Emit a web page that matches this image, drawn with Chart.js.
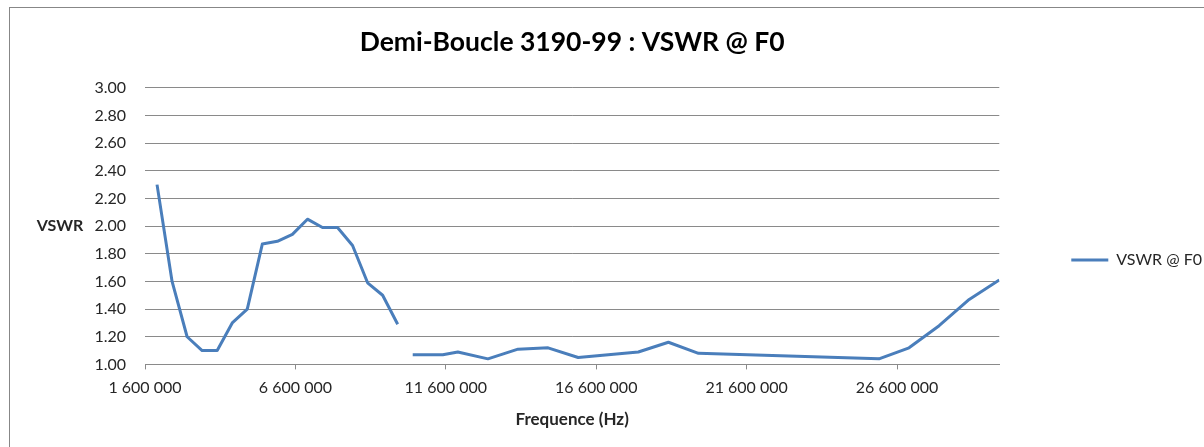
<!DOCTYPE html>
<html>
<head>
<meta charset="utf-8">
<title>Demi-Boucle 3190-99 : VSWR @ F0</title>
<script src="https://cdn.jsdelivr.net/npm/chart.js@4.4.1/dist/chart.umd.min.js"></script>
<style>
  html, body { margin: 0; padding: 0; background: #fff; overflow: hidden; }
  #frame { position: absolute; left: 9px; top: 7px; width: 1300px; height: 600px; border: 1px solid #878787; }
  #chart { display: block; }
</style>
</head>
<body>
<div id="frame"><canvas id="chart" width="1202" height="504"></canvas></div>
<script>
// measured points (Hz / VSWR), null row = missing measurement (gap in the curve)
const freqHz = [
  2000000, 2500000, 3000000, 3500000, 4000000, 4500000, 5000000, 5500000,
  6000000, 6500000, 7000000, 7500000, 8000000, 8500000, 9000000, 9500000,
  10000000, null,
  10500000, 11500000, 12000000, 13000000, 14000000, 15000000, 16000000,
  18000000, 19000000, 20000000, 26000000, 27000000, 28000000, 29000000, 30000000
];
const vswr = [
  2.30, 1.60, 1.20, 1.10, 1.10, 1.30, 1.40, 1.87,
  1.89, 1.94, 2.05, 1.99, 1.99, 1.86, 1.59, 1.50,
  1.29, null,
  1.07, 1.07, 1.09, 1.04, 1.11, 1.12, 1.05,
  1.09, 1.16, 1.08, 1.04, 1.12, 1.28, 1.47, 1.61
];
const xTicks = [1600000, 6600000, 11600000, 16600000, 21600000, 26600000];

const chartTitle = "Demi-Boucle 3190-99 : VSWR @ F0";
const seriesName = "VSWR @ F0";
const xTitle = "Frequence (Hz)";
const yTitle = "VSWR";

const textColor = "#262626";
const gridColor = "#8a8a8a";
const lineColor = "#4a7ebb";

function spaced(v) {
  return String(Math.round(v)).replace(/\B(?=(\d{3})+(?!\d))/g, " ");
}

// y axis title is horizontal in the original, so draw it by hand
const yTitlePlugin = {
  id: "yTitleFlat",
  afterDraw(chart) {
    const { ctx, chartArea } = chart;
    ctx.save();
    ctx.font = "bold 16px Lato";
    ctx.fillStyle = textColor;
    ctx.textAlign = "center";
    ctx.textBaseline = "middle";
    ctx.fillText(yTitle, 50, (chartArea.top + chartArea.bottom) / 2);
    ctx.restore();
  }
};

const ctx = document.getElementById("chart").getContext("2d");
new Chart(ctx, {
  type: "line",
  data: {
    datasets: [{
      label: seriesName,
      data: freqHz.map((f, i) => ({ x: f, y: vswr[i] })),
      borderColor: lineColor,
      backgroundColor: lineColor,
      borderWidth: 3,
      borderJoinStyle: "round",
      pointRadius: 0,
      pointHoverRadius: 0,
      pointStyle: "line",
      tension: 0,
      spanGaps: false
    }]
  },
  options: {
    responsive: false,
    animation: false,
    layout: { padding: { left: 0, right: 0, top: 0, bottom: 0 } },
    plugins: {
      tooltip: { enabled: false },
      title: {
        display: true,
        text: chartTitle,
        fullSize: false,
        color: "#000",
        font: { family: "Lato", size: 26.5, weight: "bold" },
        padding: { top: 19, bottom: 29 }
      },
      legend: {
        position: "right",
        labels: {
          usePointStyle: true,
          pointStyle: "line",
          pointStyleWidth: 37,
          boxHeight: 16,
          padding: 10,
          color: textColor,
          font: { family: "Lato", size: 16 }
        }
      }
    },
    scales: {
      x: {
        type: "linear",
        min: 1600000,
        max: 30000000,
        afterBuildTicks: axis => { axis.ticks = xTicks.map(v => ({ value: v })); },
        grid: { drawOnChartArea: false, drawTicks: true, tickLength: 5, color: gridColor },
        border: { display: true, color: gridColor },
        ticks: {
          autoSkip: false,
          maxRotation: 0,
          padding: 9,
          color: textColor,
          font: { family: "Lato", size: 16 },
          callback: v => spaced(v)
        },
        title: {
          display: true,
          text: xTitle,
          color: textColor,
          font: { family: "Lato", size: 17, weight: "bold" },
          padding: { top: 3, bottom: 82 }
        }
      },
      y: {
        min: 1,
        max: 3,
        afterFit: s => { s.width = 135; },
        grid: { drawTicks: false, color: gridColor },
        border: { display: false },
        ticks: {
          stepSize: 0.2,
          padding: 19,
          color: textColor,
          font: { family: "Lato", size: 16 },
          callback: v => v.toFixed(2)
        }
      },
      gap: {
        type: "linear",
        axis: "y",
        position: "right",
        afterFit: s => { s.width = 62; },
        grid: { display: false },
        border: { display: false },
        ticks: { display: false }
      }
    }
  },
  plugins: [yTitlePlugin]
});
</script>
</body>
</html>
